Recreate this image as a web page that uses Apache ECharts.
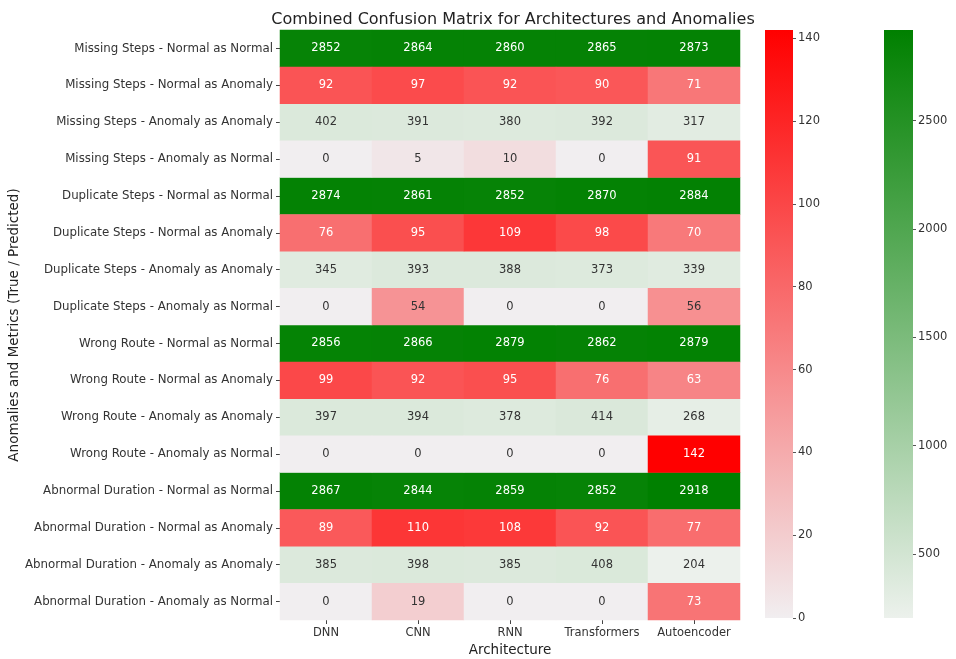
<!DOCTYPE html>
<html>
<head>
<meta charset="utf-8">
<script src="https://cdn.jsdelivr.net/npm/echarts@6/dist/echarts.min.js"></script>
<style>html,body{margin:0;padding:0;background:#fff;}#main{width:956px;height:659px;}</style>
</head>
<body>
<div id="main"></div>
<script>
const architectures = ['DNN', 'CNN', 'RNN', 'Transformers', 'Autoencoder'];
const anomalies = ['Missing Steps', 'Duplicate Steps', 'Wrong Route', 'Abnormal Duration'];
const metrics = ['Normal as Normal', 'Normal as Anomaly', 'Anomaly as Anomaly', 'Anomaly as Normal'];
// values per anomaly, rows in metrics order, columns in architectures order
const missingSteps = [
  [2852, 2864, 2860, 2865, 2873],
  [92, 97, 92, 90, 71],
  [402, 391, 380, 392, 317],
  [0, 5, 10, 0, 91]
];
const duplicateSteps = [
  [2874, 2861, 2852, 2870, 2884],
  [76, 95, 109, 98, 70],
  [345, 393, 388, 373, 339],
  [0, 54, 0, 0, 56]
];
const wrongRoute = [
  [2856, 2866, 2879, 2862, 2879],
  [99, 92, 95, 76, 63],
  [397, 394, 378, 414, 268],
  [0, 0, 0, 0, 142]
];
const abnormalDuration = [
  [2867, 2844, 2859, 2852, 2918],
  [89, 110, 108, 92, 77],
  [385, 398, 385, 408, 204],
  [0, 19, 0, 0, 73]
];
const redTicks = [0, 20, 40, 60, 80, 100, 120, 140];
const greenTicks = [500, 1000, 1500, 2000, 2500];

const blocks = [missingSteps, duplicateSteps, wrongRoute, abnormalDuration];
const rowLabels = [];
anomalies.forEach(a => metrics.forEach(m => rowLabels.push(a + ' - ' + m)));

const greenData = [], redData = [];
let greenMin = Infinity, greenMax = -Infinity, redMax = 0;
blocks.forEach((blk, ai) => {
  blk.forEach((row, mi) => {
    const y = ai * 4 + mi;
    const correct = (mi === 0 || mi === 2);
    row.forEach((v, x) => {
      if (correct) {
        greenMin = Math.min(greenMin, v); greenMax = Math.max(greenMax, v);
        greenData.push({ value: [x, y, v], label: { color: v > 1500 ? '#ffffff' : '#333333' } });
      } else {
        redMax = Math.max(redMax, v);
        redData.push({ value: [x, y, v], label: { color: v > 60 ? '#ffffff' : '#333333' } });
      }
    });
  });
});

const FONT = 'DejaVu Sans';
const RED_LOW = '#f1eef0', RED_HIGH = '#ff0000';
const GREEN_LOW = '#ecf1ec', GREEN_HIGH = '#008000';

const chart = echarts.init(document.getElementById('main'));
chart.setOption({
  animation: false,
  backgroundColor: '#ffffff',
  textStyle: { fontFamily: FONT },
  title: {
    text: 'Combined Confusion Matrix for Architectures and Anomalies',
    left: 508, top: 7, textAlign: 'center',
    textStyle: { fontFamily: FONT, fontSize: 16, fontWeight: 'normal', color: '#222' }
  },
  grid: [
    { left: 280, top: 30, width: 460, height: 590, outerBoundsMode: 'none' },
    { left: 765, top: 30, width: 28, height: 588, show: true, borderWidth: 0, outerBoundsMode: 'none',
      backgroundColor: { type: 'linear', x: 0, y: 0, x2: 0, y2: 1, colorStops: [{ offset: 0, color: RED_HIGH }, { offset: 1, color: RED_LOW }] } },
    { left: 884, top: 30, width: 29, height: 588, show: true, borderWidth: 0, outerBoundsMode: 'none',
      backgroundColor: { type: 'linear', x: 0, y: 0, x2: 0, y2: 1, colorStops: [{ offset: 0, color: GREEN_HIGH }, { offset: 1, color: GREEN_LOW }] } }
  ],
  xAxis: [
    { gridIndex: 0, type: 'category', data: architectures, position: 'bottom',
      axisLine: { show: false }, axisTick: { show: true, alignWithLabel: true, length: 4, lineStyle: { color: '#444' } },
      axisLabel: { fontSize: 11.5, color: '#333', margin: 7, interval: 0, fontFamily: FONT },
      name: 'Architecture', nameLocation: 'middle', nameGap: 22,
      nameTextStyle: { fontSize: 13.5, color: '#222', fontFamily: FONT } },
    { gridIndex: 1, type: 'value', min: 0, max: 1, show: false },
    { gridIndex: 2, type: 'value', min: 0, max: 1, show: false }
  ],
  yAxis: [
    { gridIndex: 0, type: 'category', data: rowLabels, inverse: true,
      axisLine: { show: false }, axisTick: { show: true, alignWithLabel: true, length: 4, lineStyle: { color: '#444' } },
      axisLabel: { fontSize: 11.8, color: '#333', margin: 7, interval: 0, fontFamily: FONT },
      name: 'Anomalies and Metrics (True / Predicted)', nameLocation: 'middle', nameGap: 259, nameRotate: 90,
      nameTextStyle: { fontSize: 13.5, color: '#222', fontFamily: FONT } },
    { gridIndex: 1, type: 'value', min: 0, max: 142, position: 'right',
      splitLine: { show: false }, axisLine: { show: false, onZero: false },
      axisTick: { show: true, inside: false, length: 3, customValues: redTicks, lineStyle: { color: '#555' } },
      axisLabel: { fontSize: 11.5, color: '#333', margin: 5, customValues: redTicks, fontFamily: FONT, formatter: v => String(v) } },
    { gridIndex: 2, type: 'value', min: greenMin, max: greenMax, position: 'right',
      splitLine: { show: false }, axisLine: { show: false, onZero: false },
      axisTick: { show: true, inside: false, length: 3, customValues: greenTicks, lineStyle: { color: '#555' } },
      axisLabel: { fontSize: 11.5, color: '#333', margin: 5, customValues: greenTicks, fontFamily: FONT, formatter: v => String(v) } }
  ],
  visualMap: [
    { show: false, seriesIndex: 0, min: greenMin, max: greenMax, inRange: { color: [GREEN_LOW, GREEN_HIGH] } },
    { show: false, seriesIndex: 1, min: 0, max: 142, inRange: { color: [RED_LOW, RED_HIGH] } }
  ],
  series: [
    { type: 'heatmap', xAxisIndex: 0, yAxisIndex: 0, data: greenData,
      label: { show: true, fontSize: 11.5, fontFamily: FONT, formatter: p => p.value[2] },
      emphasis: { disabled: true } },
    { type: 'heatmap', xAxisIndex: 0, yAxisIndex: 0, data: redData,
      label: { show: true, fontSize: 11.5, fontFamily: FONT, formatter: p => p.value[2] },
      emphasis: { disabled: true } }
  ]
});
</script>
</body>
</html>
